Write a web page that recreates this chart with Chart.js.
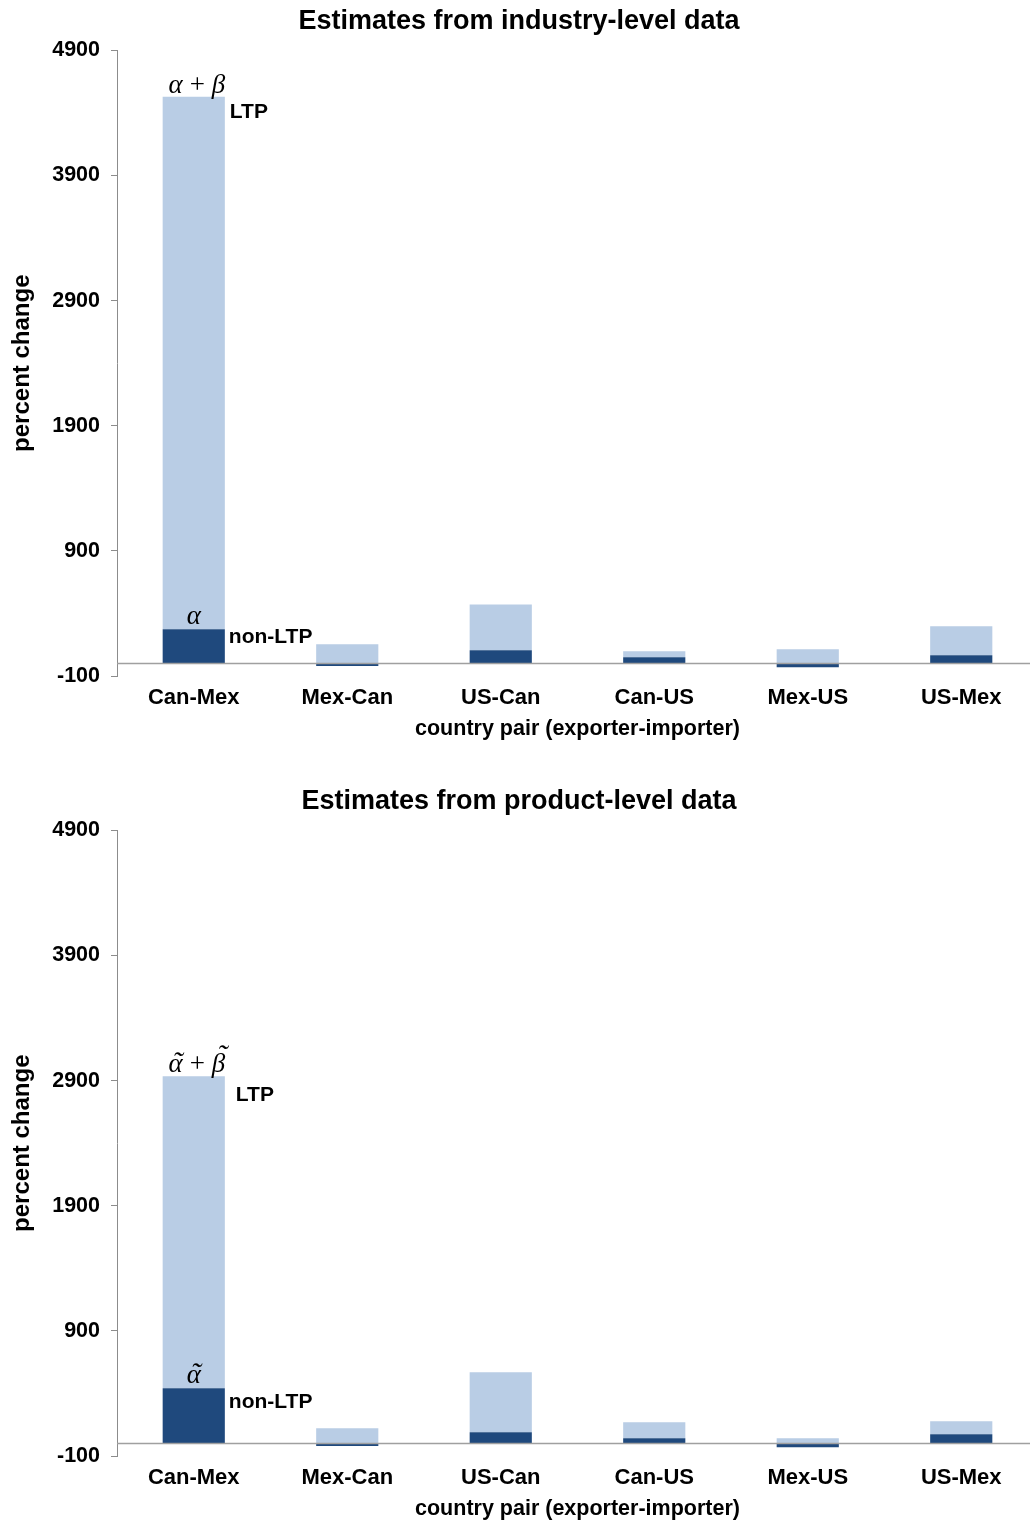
<!DOCTYPE html>
<html>
<head>
<meta charset="utf-8">
<script src="https://cdn.jsdelivr.net/npm/chart.js@4/dist/chart.umd.min.js"></script>
<style>
  html, body { margin: 0; padding: 0; background: #fff; overflow: hidden; }
  .box { position: absolute; left: 0; width: 1038px; height: 760px; }
</style>
</head>
<body>
<div class="box" style="top:0"><canvas id="chartIndustry"></canvas></div>
<div class="box" style="top:780px"><canvas id="chartProduct"></canvas></div>
<script>
// country pairs (exporter-importer)
const pairs = ["Can-Mex", "Mex-Can", "US-Can", "Can-US", "Mex-US", "US-Mex"];
// y axis ticks: -100 .. 4900 by 1000
const yMin = -100, yMax = 4900, yStep = 1000;

// industry-level: non-LTP part (alpha) and LTP part (beta)
const industryAlpha = [273, -20, 105, 49, -30, 65];
const industryBeta  = [4257, 153, 367, 48, 113, 232];

// product-level: non-LTP part (alpha~) and LTP part (beta~)
const productAlpha = [441, -20, 89, 41, -30, 73];
const productBeta  = [2495, 121, 480, 128, 41, 104];

const DARK = "#1F497D", LIGHT = "#B9CDE5", AXIS = "#8c8c8c";
const SANS = "'Liberation Sans', Arial, sans-serif";
const MATH = "italic 27px 'Liberation Serif', serif";

// draws pieces of math text centred on x, with an optional tilde over a piece
function mathText(ctx, parts, x, y) {
  ctx.font = MATH;
  const widths = parts.map(p => ctx.measureText(p.t).width);
  let cx = x - widths.reduce((a, b) => a + b, 0) / 2;
  ctx.textAlign = "left";
  parts.forEach((p, i) => {
    ctx.fillText(p.t, cx, y);
    if (p.tilde) {
      ctx.save();
      ctx.font = "italic 30px 'Liberation Serif', serif";
      ctx.textAlign = "center";
      ctx.fillText("\u02DC", cx + widths[i] / 2 + (p.tx || 2), y - 1 - (p.up || 0));
      ctx.restore();
    }
    cx += widths[i];
  });
}

// zero line + the labels beside the first bar
const notes = {
  id: "notes",
  afterDatasetsDraw(chart, args, opts) {
    const { ctx, chartArea, scales } = chart;
    const y0 = scales.y.getPixelForValue(0);
    ctx.save();
    ctx.strokeStyle = "#a0a0a0";
    ctx.lineWidth = 1.5;
    ctx.beginPath();
    ctx.moveTo(chartArea.left, y0);
    ctx.lineTo(chartArea.right, y0);
    ctx.stroke();

    const dark = chart.getDatasetMeta(0).data[0];
    const light = chart.getDatasetMeta(1).data[0];
    const right = dark.x + dark.width / 2;
    ctx.fillStyle = "#000";
    ctx.textBaseline = "middle";

    const t = opts.tilde;
    mathText(ctx, [{ t: "\u03B1", tilde: t }, { t: "\u2009+\u2009" }, { t: "\u03B2", tilde: t, up: 7, tx: 4 }],
      light.x + 3, light.y - 11);
    mathText(ctx, [{ t: "\u03B1", tilde: t }], dark.x, dark.y - 12);

    ctx.font = "bold 21px " + SANS;
    ctx.textAlign = "left";
    ctx.fillText("LTP", right + opts.ltpDx, light.y + opts.ltpDy);
    ctx.fillText("non-LTP", right + 4, dark.y + opts.nonDy);
    ctx.restore();
  }
};

function makeChart(el, title, alpha, beta, noteOpts) {
  return new Chart(el, {
    type: "bar",
    data: {
      labels: pairs,
      datasets: [
        { label: "non-LTP", data: alpha, backgroundColor: DARK },
        { label: "LTP", data: beta, backgroundColor: LIGHT }
      ]
    },
    options: {
      responsive: true,
      maintainAspectRatio: false,
      animation: false,
      layout: { padding: { top: 0, bottom: 20, left: 0, right: 0 } },
      datasets: { bar: { barPercentage: 0.405, categoryPercentage: 1 } },
      plugins: {
        legend: { display: false },
        tooltip: { enabled: false },
        title: {
          display: true, text: title, color: "#000",
          font: { family: SANS, size: 27, weight: "bold", lineHeight: 1.2 },
          padding: { top: 5, bottom: 13 }
        },
        notes: noteOpts
      },
      scales: {
        x: {
          stacked: true,
          grid: { display: false, drawTicks: false },
          border: { display: false },
          ticks: { color: "#000", padding: 9, maxRotation: 0, font: { family: SANS, size: 22, weight: "bold" } },
          title: {
            display: true, text: "country pair (exporter-importer)", color: "#000",
            font: { family: SANS, size: 21.5, weight: "bold", lineHeight: 1 },
            padding: { top: 0, bottom: 0 }
          },
          afterFit(s) { s.height = 64; }
        },
        y: {
          stacked: true,
          min: yMin, max: yMax,
          ticks: {
            stepSize: yStep, color: "#000", padding: 11,
            font: { family: SANS, size: 21.5, weight: "bold" },
            callback: v => String(v)
          },
          grid: { display: true, drawOnChartArea: false, drawTicks: true, tickLength: 6, color: AXIS },
          border: { display: true, color: AXIS, width: 1 },
          title: {
            display: true, text: "percent change", color: "#000",
            font: { family: SANS, size: 24, weight: "bold", lineHeight: 1 },
            padding: { top: 10, bottom: 0 }
          },
          afterFit(s) { s.width = 117; }
        }
      }
    },
    plugins: [notes]
  });
}

makeChart(document.getElementById("chartIndustry"), "Estimates from industry-level data",
  industryAlpha, industryBeta,
  { tilde: false, ltpDx: 5, ltpDy: 16, nonDy: 8 });

makeChart(document.getElementById("chartProduct"), "Estimates from product-level data",
  productAlpha, productBeta,
  { tilde: true, ltpDx: 11, ltpDy: 19, nonDy: 14 });
</script>
</body>
</html>
